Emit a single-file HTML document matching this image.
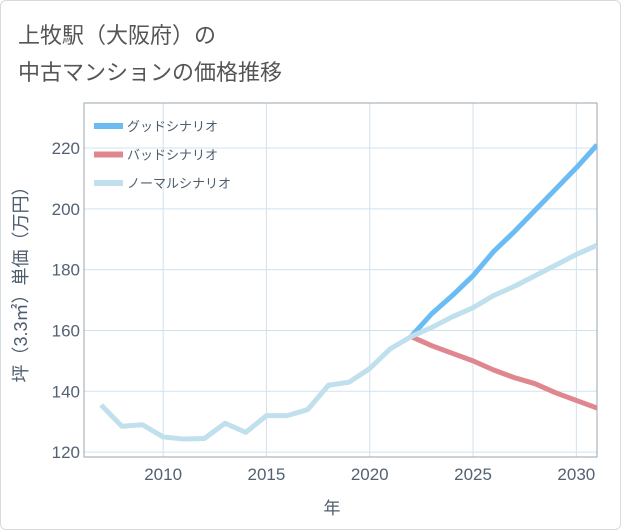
<!DOCTYPE html>
<html><head><meta charset="utf-8"><style>
body{margin:0;background:#fff;font-family:"Liberation Sans","Noto Sans CJK JP",sans-serif;}
#wrap{position:relative;width:621px;height:530px;}
#frame{position:absolute;left:0;top:0;width:619px;height:528px;border:1px solid #d6dbe0;border-radius:6px;}
.title{position:absolute;left:18px;font-size:22px;color:#555;}
</style></head><body>
<div id="wrap">
<div id="frame"></div>
<div class="title" style="top:18px">上牧駅（大阪府）の</div>
<div class="title" style="top:55px">中古マンションの価格推移</div>
<svg id="chart" width="621" height="530" style="position:absolute;left:0;top:0"></svg>
</div>
<script>
const years=[2007,2008,2009,2010,2011,2012,2013,2014,2015,2016,2017,2018,2019,2020,2021,2022,2023,2024,2025,2026,2027,2028,2029,2030,2031];
const normalVals=[135.5,128.5,129,125,124.3,124.5,129.5,126.5,132,132,134,142,143,147.5,154,158,161,164.5,167.5,171.5,174.5,178,181.5,185,188];
const futureYears=[2022,2023,2024,2025,2026,2027,2028,2029,2030,2031];
const goodVals=[158,165.5,171.5,178,186,192.5,199.5,206.5,213.5,221];
const badVals=[158,155,152.5,150,147,144.5,142.5,139.5,137,134.5];
const xTicks=[2010,2015,2020,2025,2030];
const yTicks=[120,140,160,180,200,220];
const legendLabels=["グッドシナリオ","バッドシナリオ","ノーマルシナリオ"];
const colors=["#6bbcf2","#e0868e","#bfe0ec"];

const L=84,R=597,T=103,B=457;
const x0=2006.17,x1=2031,y0=118.4,y1=234.8;
const X=v=>L+(v-x0)/(x1-x0)*(R-L);
const Y=v=>B-(v-y0)/(y1-y0)*(B-T);
const svg=document.getElementById('chart');
const NS='http://www.w3.org/2000/svg';
function mk(t,a){const e=document.createElementNS(NS,t);for(const k in a)e.setAttribute(k,a[k]);svg.appendChild(e);return e;}
xTicks.forEach(v=>{const e=mk('line',{x1:X(v),x2:X(v),y1:T,y2:B,stroke:'#d3e1ec','stroke-width':1});


const t=mk('text',{x:X(v),y:B+23,'text-anchor':'middle','font-size':17,fill:'#526273'});t.textContent=v;

});
yTicks.forEach(v=>{const e=mk('line',{x1:L,x2:R,y1:Y(v),y2:Y(v),stroke:'#cfe3ef','stroke-width':1});


const t=mk('text',{x:L-4,y:Y(v)+6,'text-anchor':'end','font-size':17,fill:'#526273'});t.textContent=v;

});
const box=mk('rect',{x:L,y:T,width:R-L,height:B-T,fill:'none',stroke:'#9aa4ad','stroke-width':1});


function line(xs,ys,c,name){const p=mk('polyline',{points:xs.map((x,i)=>X(x)+','+Y(ys[i])).join(' '),fill:'none',stroke:c,'stroke-width':5,'stroke-linejoin':'round'});

}
const cp=mk('clipPath',{id:'cp'});cp.appendChild(document.createElementNS(NS,'rect'));
const cr=cp.firstChild;cr.setAttribute('x',L);cr.setAttribute('y',T);cr.setAttribute('width',R-L);cr.setAttribute('height',B-T);
line(futureYears,goodVals,colors[0],'good-scenario-line');
line(futureYears,badVals,colors[1],'bad-scenario-line');
line(years,normalVals,colors[2],'normal-scenario-line');
svg.querySelectorAll('polyline').forEach(p=>p.setAttribute('clip-path','url(#cp)'));
legendLabels.forEach((lab,i)=>{const y=126+i*28.5;
const l=mk('line',{x1:94,x2:123,y1:y,y2:y,stroke:colors[i],'stroke-width':6});


const t=mk('text',{x:127,y:y+5,'font-size':13,fill:'#4d5d6d'});t.textContent=lab;

});
const xt=mk('text',{x:332,y:514,'text-anchor':'middle','font-size':17,fill:'#4d5d6d'});xt.textContent='年';


const yt=mk('text',{x:0,y:0,'text-anchor':'middle','font-size':18,fill:'#4d5d6d',transform:'translate(27,280) rotate(-90)'});yt.textContent='坪（3.3㎡）単価（万円）';


</script>
</body></html>
